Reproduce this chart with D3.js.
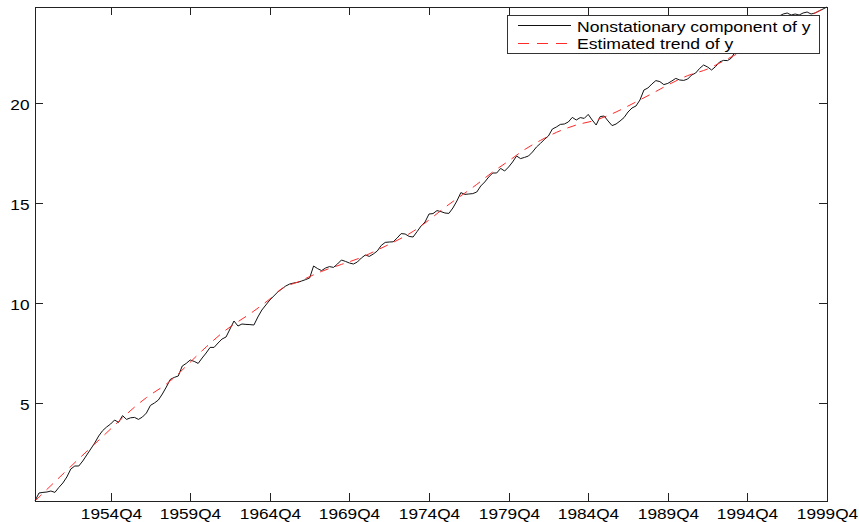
<!DOCTYPE html>
<html>
<head>
<meta charset="utf-8">
<script src="https://cdn.jsdelivr.net/npm/d3@7"></script>
<style>
  html, body { margin: 0; padding: 0; background: #fff; }
  svg { display: block; }
  text { font-family: "Liberation Sans", Arial, Helvetica, sans-serif; fill: #000; }
</style>
</head>
<body>
<svg id="chart" width="859" height="522"></svg>
<script>
// ---------------- data ----------------
const startYear = 1950;           // first quarter of the sample: 1950Q1
const nonstationary = [
  0.1, 0.5, 0.53, 0.55, 0.6, 0.53, 0.78, 1.0, 1.3, 1.7,
  1.85, 1.85, 2.1, 2.4, 2.7, 3.0, 3.35, 3.62, 3.8, 3.95,
  4.15, 4.03, 4.37, 4.18, 4.26, 4.28, 4.18, 4.3, 4.5, 4.88,
  5.0, 5.15, 5.45, 5.8, 6.18, 6.28, 6.35, 6.85, 6.98, 7.15,
  7.08, 6.98, 7.25, 7.5, 7.78, 7.78, 8.0, 8.2, 8.3, 8.7,
  9.1, 8.85, 8.95, 8.93, 8.92, 8.9, 9.3, 9.65, 9.9, 10.15,
  10.35, 10.55, 10.7, 10.85, 10.95, 11.0, 11.03, 11.1, 11.17, 11.25,
  11.85, 11.72, 11.62, 11.75, 11.82, 11.78, 11.95, 12.15, 12.08, 12.0,
  11.95, 12.05, 12.25, 12.4, 12.33, 12.45, 12.6, 12.88, 13.03, 13.05,
  13.06, 13.25, 13.47, 13.45, 13.33, 13.3, 13.57, 13.85, 14.05, 14.45,
  14.47, 14.62, 14.57, 14.5, 14.48, 14.75, 15.1, 15.52, 15.43, 15.45,
  15.47, 15.55, 15.85, 16.05, 16.3, 16.5, 16.5, 16.73, 16.6, 16.8,
  17.05, 17.35, 17.22, 17.28, 17.35, 17.55, 17.8, 17.98, 18.18, 18.35,
  18.7, 18.8, 18.93, 18.95, 19.05, 19.28, 19.15, 19.27, 19.23, 19.43,
  19.15, 18.9, 19.32, 19.35, 19.1, 18.87, 18.95, 19.1, 19.27, 19.55,
  19.75, 19.85, 20.15, 20.65, 20.75, 20.95, 21.12, 21.07, 20.92, 20.98,
  21.1, 21.23, 21.15, 21.13, 21.2, 21.4, 21.5, 21.73, 21.9, 21.8,
  21.65, 21.82, 22.05, 22.13, 22.12, 22.25, 22.6, 22.9, 23.1, 23.2,
  23.4, 23.5, 23.7, 23.8, 23.95, 24.1, 24.2, 24.35, 24.45, 24.5,
  24.4, 24.45, 24.4, 24.5, 24.55, 24.45, 24.5, 24.6, 24.7, 24.8
];
// estimated trend read at selected quarters (quarter index from 1950Q1)
const trendQuarters = [0, 15, 28, 33, 43, 47, 55, 59, 62, 66, 72, 77, 82, 86, 90, 95, 98, 103, 111, 115, 119, 123, 127, 131, 136, 141, 146, 150, 155, 160, 164, 169, 173, 186, 199];
const trendValues   = [0.1, 2.95, 5.27, 5.95, 7.8, 8.5, 9.6, 10.2, 10.72, 11.05, 11.58, 11.93, 12.28, 12.65, 13.03, 13.58, 14.0, 14.78, 15.93, 16.55, 17.1, 17.67, 18.13, 18.53, 18.9, 19.15, 19.55, 19.95, 20.47, 21.0, 21.37, 21.7, 22.1, 23.5, 24.8];
const xTickLabels = ["1954Q4", "1959Q4", "1964Q4", "1969Q4", "1974Q4", "1979Q4", "1984Q4", "1989Q4", "1994Q4", "1999Q4"];
const yTickValues = [5, 10, 15, 20];
const legendLabels = ["Nonstationary component of y", "Estimated trend of y"];

// ---------------- layout ----------------
const L = 35, R = 827, T = 7, B = 501;
const svg = d3.select("#chart");
const quarters = nonstationary.map((v, i) => i);
const labelToIndex = s => (+s.slice(0, 4) - startYear) * 4 + (+s.slice(5) - 1);

const x = d3.scaleLinear().domain([0, nonstationary.length - 1]).range([L, R]);
const allVals = nonstationary.concat(trendValues);
const y = d3.scaleLinear().domain([d3.min(allVals), d3.max(allVals)]).range([B, T]);

const stretch = "scale(1.15,1)";
const tickLen = 8;

// lines
const line = d3.line().x((d, i) => x(i)).y(d => y(d));
svg.append("path")
  .attr("d", line(nonstationary))
  .attr("fill", "none").attr("stroke", "#111").attr("stroke-width", 1)
  .attr("stroke-linejoin", "round");

const trendData = trendQuarters.map((q, k) => [q, trendValues[k]]);
const tline = d3.line().x(d => x(d[0])).y(d => y(d[1])).curve(d3.curveMonotoneX);
svg.append("path")
  .attr("d", tline(trendData))
  .attr("fill", "none").attr("stroke", "#ff2a2a").attr("stroke-width", 1)
  .attr("stroke-dasharray", "9,7");

// box
svg.append("rect")
  .attr("x", L + 0.5).attr("y", T + 0.5)
  .attr("width", R - L).attr("height", B - T)
  .attr("fill", "none").attr("stroke", "#222").attr("stroke-width", 1);

// x ticks (inward, top and bottom)
const xt = svg.append("g");
xTickLabels.forEach(lbl => {
  const px = Math.round(x(labelToIndex(lbl))) + 0.5;
  xt.append("line").attr("x1", px).attr("x2", px).attr("y1", B).attr("y2", B - tickLen).attr("stroke", "#222");
  xt.append("line").attr("x1", px).attr("x2", px).attr("y1", T).attr("y2", T + tickLen).attr("stroke", "#222");
  xt.append("text")
    .attr("transform", `translate(${px},519) ${stretch}`)
    .attr("text-anchor", "middle").attr("font-size", 15)
    .text(lbl);
});

// y ticks (inward, left and right)
const yt = svg.append("g");
yTickValues.forEach(v => {
  const py = Math.round(y(v)) + 0.5;
  yt.append("line").attr("x1", L).attr("x2", L + tickLen).attr("y1", py).attr("y2", py).attr("stroke", "#222");
  yt.append("line").attr("x1", R).attr("x2", R - tickLen).attr("y1", py).attr("y2", py).attr("stroke", "#222");
  yt.append("text")
    .attr("transform", `translate(29.5,${py + 6}) ${stretch}`)
    .attr("text-anchor", "end").attr("font-size", 15)
    .text(v);
});

// legend
const lg = svg.append("g");
lg.append("rect")
  .attr("x", 507.5).attr("y", 15.5).attr("width", 312).attr("height", 38)
  .attr("fill", "#fff").attr("stroke", "#333").attr("stroke-width", 1);
const rows = [
  { y: 25.5, base: 31.5, stroke: "#111", dash: null },
  { y: 43.5, base: 48.5, stroke: "#ff2a2a", dash: "11,8" }
];
rows.forEach((r, k) => {
  lg.append("line").attr("x1", 518).attr("x2", 571).attr("y1", r.y).attr("y2", r.y)
    .attr("stroke", r.stroke).attr("stroke-width", 1)
    .attr("stroke-dasharray", r.dash);
  lg.append("text")
    .attr("transform", `translate(577,${r.base}) ${stretch}`)
    .attr("font-size", 15.3)
    .text(legendLabels[k]);
});
</script>
</body>
</html>
